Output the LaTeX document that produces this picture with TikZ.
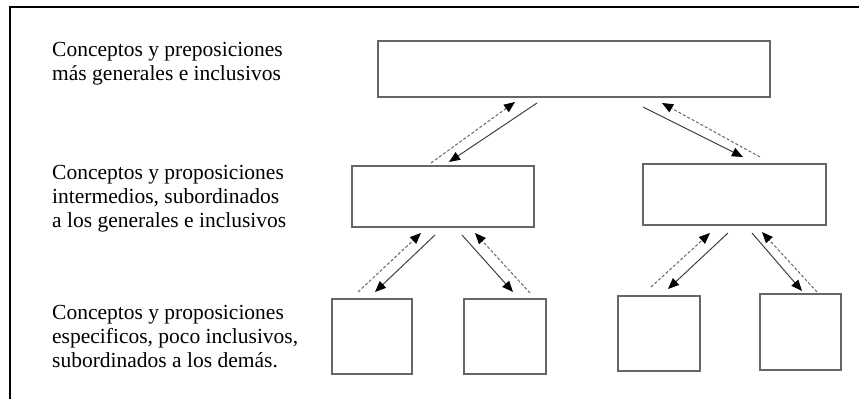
\documentclass[tikz,border=0pt]{standalone}
\usepackage{fontspec}
\setmainfont{Liberation Serif}
\usetikzlibrary{arrows.meta}

\begin{document}
\begin{tikzpicture}[x=1pt,y=1pt,yscale=-1,
  caja/.style={draw=black!60, line width=1.1pt, inner sep=0pt},
  texto/.style={anchor=base west, align=left, inner sep=0pt, font=\fontsize{21.5}{24}\selectfont},
  baja/.style={draw=black!75, line width=1pt, -{Triangle[length=11pt,width=9pt,color=black]}},
  sube/.style={baja, draw=black!60, dash pattern=on 3pt off 2pt}]
\useasboundingbox (0,0) rectangle (859,399);

%Frame
\draw [line width=1.4pt] (10,399) -- (10,7) -- (859,7) ;

% Text Node
\node[texto] (t1) at (52,80) {Conceptos y preposiciones\\más generales e inclusivos};
% Text Node
\node[texto] (t2) at (52,227) {Conceptos y proposiciones\\intermedios, subordinados\\a los generales e inclusivos};
% Text Node
\node[texto] (t3) at (52,367) {Conceptos y proposiciones\\especificos, poco inclusivos,\\subordinados a los demás.};

%Shape: Rectangle
\node[caja, minimum width=392pt, minimum height=56pt] (gen) at (574,69) {};
\node[caja, minimum width=182pt, minimum height=61pt] (medA) at (443,196.5) {};
\node[caja, minimum width=183pt, minimum height=61pt] (medB) at (734.5,194.5) {};
\node[caja, minimum width=80pt, minimum height=75pt] (espA) at (372,336.5) {};
\node[caja, minimum width=82pt, minimum height=75pt] (espB) at (505,336.5) {};
\node[caja, minimum width=82pt, minimum height=75pt] (espC) at (659,333.5) {};
\node[caja, minimum width=81pt, minimum height=76pt] (espD) at (800.5,332) {};

%Arrow ends
\coordinate (g1a) at (537,103); \coordinate (g1b) at (449,162);
\coordinate (g1c) at (431,163); \coordinate (g1d) at (515,102);
\coordinate (g2a) at (643,107); \coordinate (g2b) at (743,157);
\coordinate (g2c) at (760,157); \coordinate (g2d) at (662,103);
\coordinate (a1a) at (435,235); \coordinate (a1b) at (375,292);
\coordinate (a1c) at (358,292); \coordinate (a1d) at (421,233);
\coordinate (a2a) at (462,235); \coordinate (a2b) at (513,292);
\coordinate (a2c) at (530,293); \coordinate (a2d) at (475,233);
\coordinate (b1a) at (728,233); \coordinate (b1b) at (668,289);
\coordinate (b1c) at (651,287); \coordinate (b1d) at (710,233);
\coordinate (b2a) at (752,233); \coordinate (b2b) at (802,291);
\coordinate (b2c) at (817,292); \coordinate (b2d) at (762,232);

%Straight Lines
\draw [baja] (g1a) -- (g1b) ;
\draw [sube] (g1c) -- (g1d) ;
\draw [baja] (g2a) -- (g2b) ;
\draw [sube] (g2c) -- (g2d) ;
\draw [baja] (a1a) -- (a1b) ;
\draw [sube] (a1c) -- (a1d) ;
\draw [baja] (a2a) -- (a2b) ;
\draw [sube] (a2c) -- (a2d) ;
\draw [baja] (b1a) -- (b1b) ;
\draw [sube] (b1c) -- (b1d) ;
\draw [baja] (b2a) -- (b2b) ;
\draw [sube] (b2c) -- (b2d) ;
\end{tikzpicture}
\end{document}
